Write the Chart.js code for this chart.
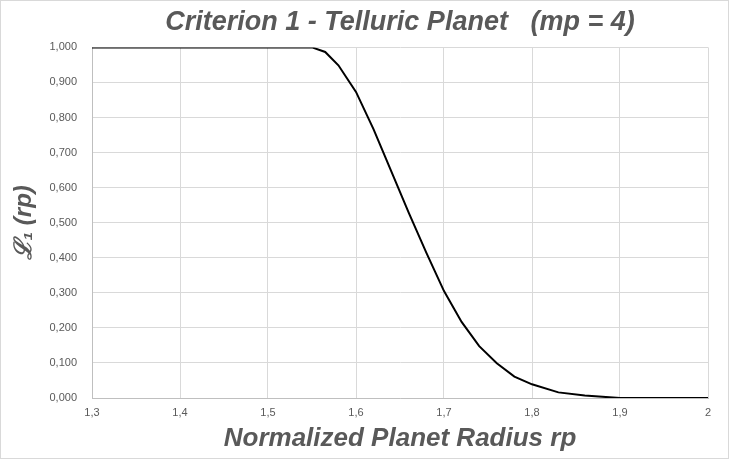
<!DOCTYPE html>
<html>
<head>
<meta charset="utf-8">
<script src="https://cdn.jsdelivr.net/npm/chart.js@4.4.1/dist/chart.umd.min.js"></script>
<style>
body { margin: 0; background: #fff; }
canvas { display: block; }
</style>
</head>
<body>
<canvas id="chart" width="729" height="459"></canvas>
<script>
// values
const radius = [1.3, 1.4, 1.5, 1.55, 1.565, 1.58, 1.6, 1.62, 1.64, 1.66, 1.68, 1.7, 1.72, 1.74, 1.76, 1.78, 1.8, 1.83, 1.86, 1.9, 2.0];
const criterion = [1, 1, 1, 1, 0.987, 0.949, 0.873, 0.766, 0.647, 0.528, 0.414, 0.305, 0.217, 0.148, 0.099, 0.061, 0.039, 0.016, 0.007, 0, 0];
const xTicks = ["1,3", "1,4", "1,5", "1,6", "1,7", "1,8", "1,9", "2"];
const yTicks = ["0,000", "0,100", "0,200", "0,300", "0,400", "0,500", "0,600", "0,700", "0,800", "0,900", "1,000"];

const gray = "#595959";
const tickFont = { family: "'Liberation Sans Narrow', Arial, sans-serif", size: 11 };

let points = [];
for (let i = 0; i < radius.length; i++) {
	points.push({ x: radius[i], y: criterion[i] });
}

// thin grey frame round the whole chart
const frame = {
	id: "frame",
	afterDraw(chart) {
		const c = chart.ctx;
		c.save();
		c.strokeStyle = "#d9d9d9";
		c.lineWidth = 1;
		c.strokeRect(0.5, 0.5, chart.width - 1, chart.height - 1);
		c.restore();
	}
};

Chart.defaults.devicePixelRatio = 1;

let chart = new Chart("chart", {
	type: "line",
	data: {
		datasets: [{
			data: points,
			borderColor: "#000",
			borderWidth: 2,
			pointRadius: 0,
			tension: 0,
			fill: false
		}]
	},
	options: {
		responsive: false,
		animation: false,
		layout: { padding: { left: 1, right: 21, top: 1, bottom: 0 } },
		plugins: {
			legend: { display: false },
			tooltip: { enabled: false },
			title: {
				display: true,
				fullSize: false,
				text: "Criterion 1 - Telluric Planet   (mp = 4)",
				color: gray,
				font: { family: "Arial, 'Liberation Sans', sans-serif", size: 27, weight: "bold", style: "italic" },
				padding: { top: 5, bottom: 9 }
			}
		},
		scales: {
			x: {
				type: "linear",
				min: 1.3,
				max: 2,
				ticks: {
					stepSize: 0.1,
					color: gray,
					font: tickFont,
					padding: 8,
					maxRotation: 0,
					callback: function (v, i) { return xTicks[i] !== undefined ? xTicks[i] : v; }
				},
				grid: { color: "#d9d9d9", drawTicks: false },
				border: { color: "#bfbfbf" },
				title: {
					display: true,
					text: "Normalized Planet Radius rp",
					color: gray,
					font: { family: "Arial, 'Liberation Sans', sans-serif", size: 26, weight: "bold", style: "italic" },
					padding: { top: 0, bottom: 5 }
				},
				afterFit: function (s) { s.height = 61; }
			},
			y: {
				min: 0,
				max: 1,
				ticks: {
					stepSize: 0.1,
					color: gray,
					font: tickFont,
					padding: 15,
					callback: function (v, i) { return yTicks[i] !== undefined ? yTicks[i] : v; }
				},
				grid: { color: "#d9d9d9", drawTicks: false },
				border: { color: "#bfbfbf" },
				title: {
					display: true,
					text: "ℒ₁ (rp)",
					color: gray,
					font: { family: "Arial, 'Liberation Sans', sans-serif", size: 24, weight: "bold", style: "italic" },
					padding: { top: 9, bottom: 0 }
				},
				afterFit: function (s) { s.width = 91; }
			}
		}
	},
	plugins: [frame]
});
</script>
</body>
</html>
